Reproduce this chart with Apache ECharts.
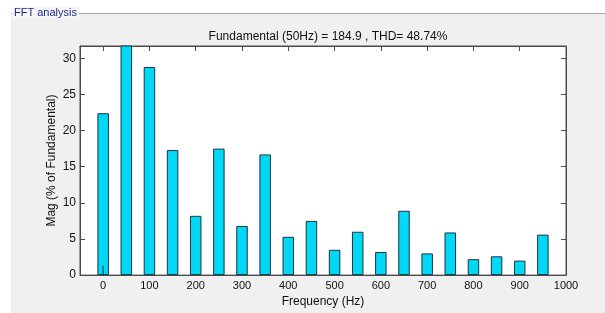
<!DOCTYPE html>
<html>
<head>
<meta charset="utf-8">
<script src="https://cdn.jsdelivr.net/npm/echarts@6/dist/echarts.min.js"></script>
<style>
  html, body { margin: 0; padding: 0; background: #fff; }
  #chart { width: 605px; height: 313px; }
</style>
</head>
<body>
<div id="chart"></div>
<script>
// harmonic frequencies (Hz) and magnitudes (% of fundamental)
var freqs = [0, 50, 100, 150, 200, 250, 300, 350, 400, 450, 500, 550, 600, 650, 700, 750, 800, 850, 900, 950];
var mags = [22.4, 100, 28.8, 17.3, 8.2, 17.5, 6.8, 16.7, 5.3, 7.5, 3.5, 6.0, 3.2, 8.9, 3.0, 5.9, 2.2, 2.6, 2.0, 5.6];
var xTicks = [0, 100, 200, 300, 400, 500, 600, 700, 800, 900, 1000];
var yTicks = [0, 5, 10, 15, 20, 25, 30];
var dcStem = [[0, 0], [0, 1.3]];

(function () {
  var myChart = echarts.init(document.getElementById("chart"));
  var font = "'Liberation Sans', Arial, sans-serif";
  var frame = "#4a4a4a";

  var barData = freqs.map(function (f, i) {
    return [f, mags[i]];
  });

  var baseX = {
    type: "value",
    min: -50,
    max: 1000,
    axisLine: { show: true, onZero: false, lineStyle: { color: frame } },
    axisTick: { show: true, inside: true, length: 5, customValues: xTicks, lineStyle: { color: frame } },
    splitLine: { show: false },
  };
  var baseY = {
    type: "value",
    min: 0,
    max: 31.7,
    axisLine: { show: true, onZero: false, lineStyle: { color: frame } },
    axisTick: { show: true, inside: true, length: 5, customValues: yTicks, lineStyle: { color: frame } },
    splitLine: { show: false },
  };

  var option = {
    backgroundColor: "#fff",
    animation: false,
    textStyle: { fontFamily: font },
    graphic: [
      { type: "rect", z: -10, shape: { x: 11, y: 14, width: 594, height: 299 }, style: { fill: "#f0f0f0" } },
      { type: "line", z: -9, shape: { x1: 11, y1: 13.5, x2: 605, y2: 13.5 }, style: { stroke: "#a8a8a8", lineWidth: 1 } },
      {
        type: "text", z: -8, left: 12, top: 7,
        style: { text: "FFT analysis", fill: "#1c2a8c", font: "11px " + font, backgroundColor: "#f6f6f6", padding: [0, 2] },
      },
    ],
    title: {
      text: "Fundamental (50Hz) = 184.9 , THD= 48.74%",
      left: 323,
      textAlign: "center",
      top: 26,
      textStyle: { fontSize: 12, fontWeight: "normal", color: "#111", fontFamily: font },
    },
    grid: {
      left: 80,
      top: 46,
      width: 486,
      height: 230,
      show: true,
      backgroundColor: "#fff",
      borderColor: frame,
      borderWidth: 1,
    },
    xAxis: [
      Object.assign({}, baseX, {
        position: "bottom",
        name: "Frequency (Hz)",
        nameLocation: "middle",
        nameGap: 20,
        nameTextStyle: { fontSize: 12, color: "#111", fontFamily: font },
        axisLabel: {
          show: true, customValues: xTicks, color: "#111", fontSize: 11, margin: 5, fontFamily: font,
          formatter: function (v) { return String(v); },
        },
      }),
      Object.assign({}, baseX, { position: "top", axisLabel: { show: false } }),
    ],
    yAxis: [
      Object.assign({}, baseY, {
        position: "left",
        name: "Mag (% of Fundamental)",
        nameLocation: "middle",
        nameGap: 22,
        nameMoveOverlap: false,
        nameTextStyle: { fontSize: 12, color: "#111", fontFamily: font },
        axisLabel: { show: true, customValues: yTicks, color: "#111", fontSize: 12, margin: 4, fontFamily: font },
      }),
      Object.assign({}, baseY, { position: "right", axisLabel: { show: false } }),
    ],
    series: [
      {
        type: "bar",
        xAxisIndex: 0,
        yAxisIndex: 0,
        barWidth: 11.5,
        clip: true,
        data: barData,
        itemStyle: { color: "#00d8f6", borderColor: "#1b3440", borderWidth: 1 },
      },
      {
        type: "line",
        xAxisIndex: 0,
        yAxisIndex: 0,
        data: dcStem,
        symbol: "none",
        lineStyle: { color: "#1b3440", width: 1 },
      },
    ],
  };
  myChart.setOption(option);
})();
</script>
</body>
</html>
